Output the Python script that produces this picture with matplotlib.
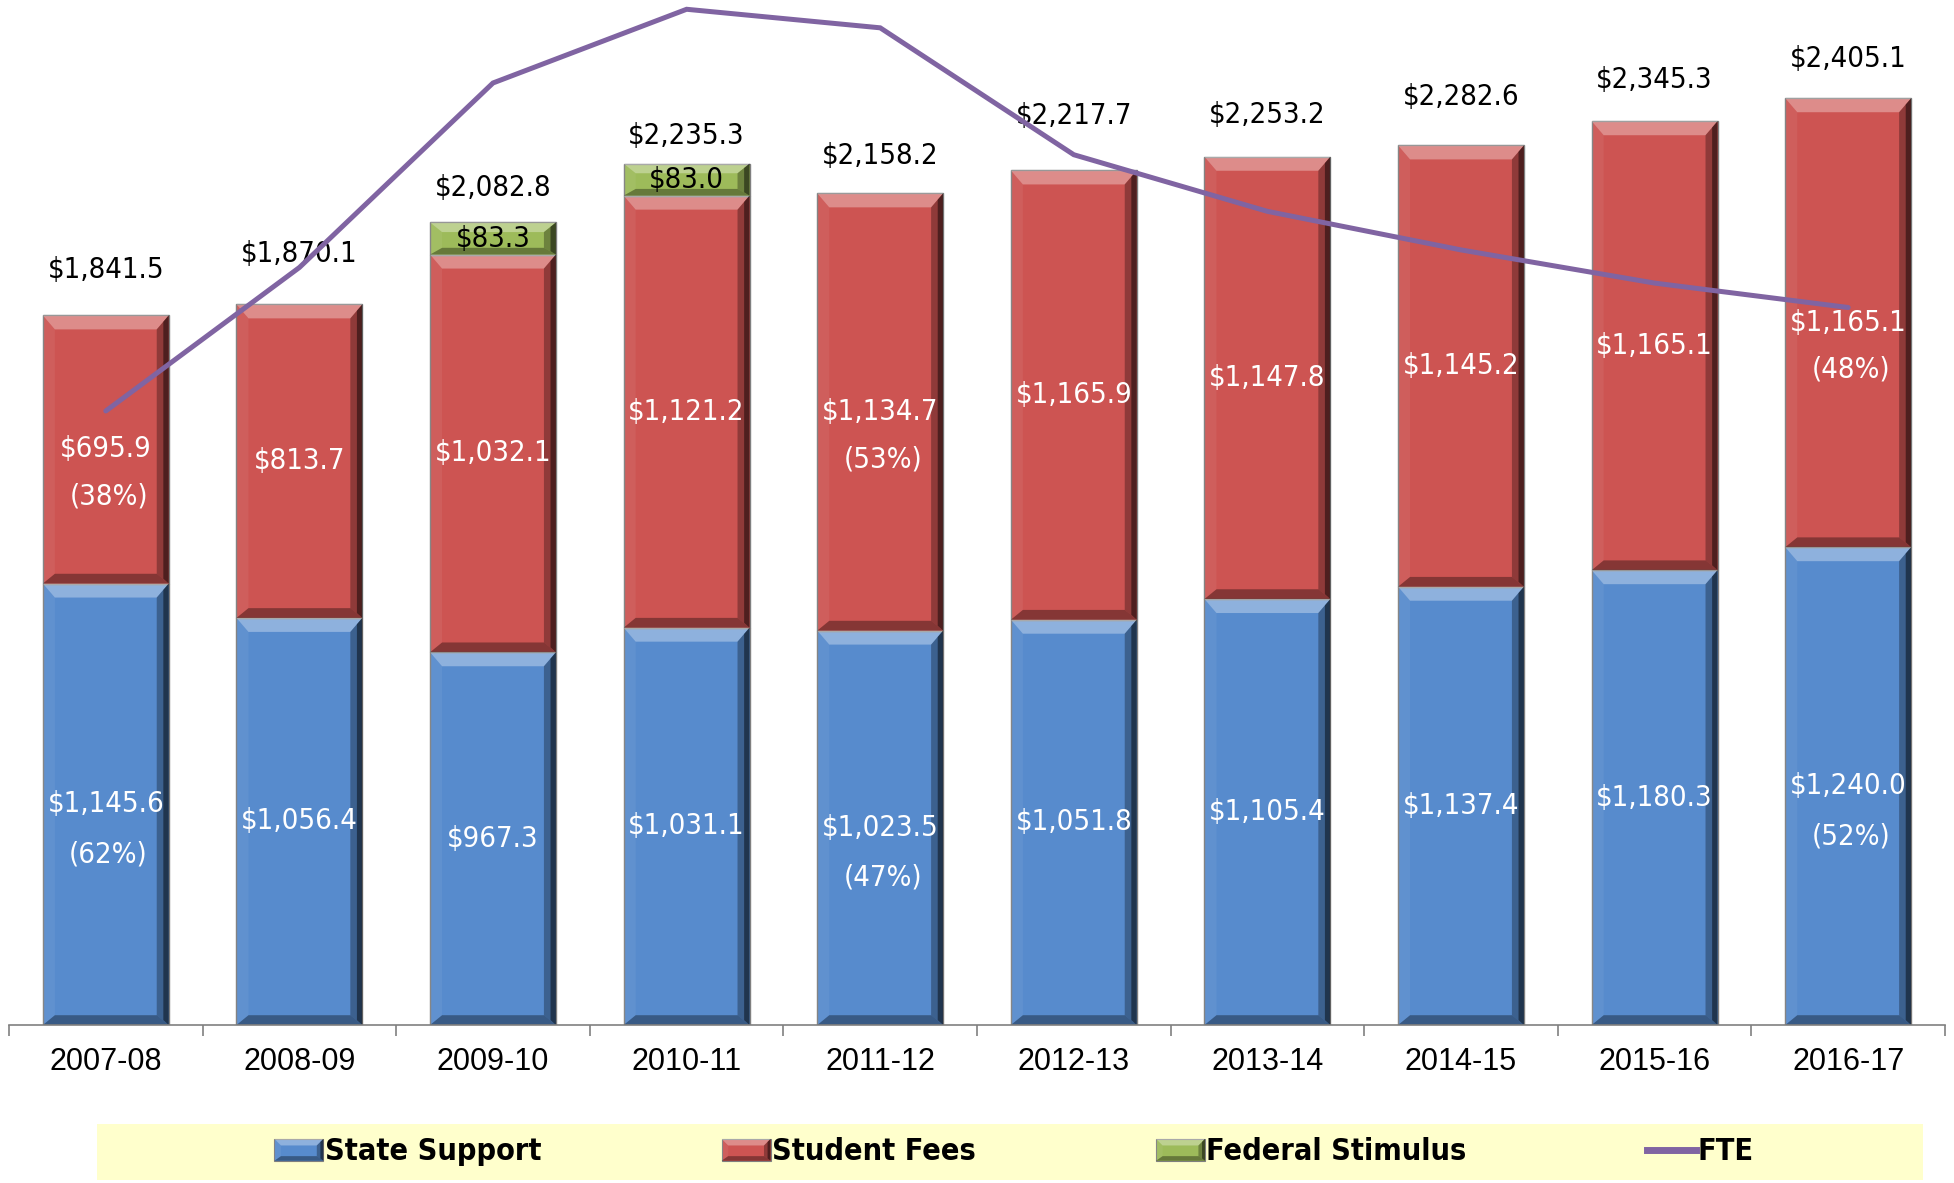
import os
import numpy as np
import matplotlib
matplotlib.use('Agg')
import matplotlib.pyplot as plt
from matplotlib import font_manager as fm
from matplotlib.patches import Polygon, Patch, Rectangle
from matplotlib.lines import Line2D
from matplotlib.legend_handler import HandlerBase

# ---- data ($ millions) ----
years = ['2007-08', '2008-09', '2009-10', '2010-11', '2011-12',
         '2012-13', '2013-14', '2014-15', '2015-16', '2016-17']
state_support = [1145.6, 1056.4, 967.3, 1031.1, 1023.5, 1051.8, 1105.4, 1137.4, 1180.3, 1240.0]
student_fees = [695.9, 813.7, 1032.1, 1121.2, 1134.7, 1165.9, 1147.8, 1145.2, 1165.1, 1165.1]
federal_stimulus = [0, 0, 83.3, 83.0, 0, 0, 0, 0, 0, 0]
totals = [1841.5, 1870.1, 2082.8, 2235.3, 2158.2, 2217.7, 2253.2, 2282.6, 2345.3, 2405.1]
state_pct = ['(62%)', None, None, None, '(47%)', None, None, None, None, '(52%)']
fees_pct = ['(38%)', None, None, None, '(53%)', None, None, None, None, '(48%)']
# FTE has no visible scale, values estimated against a hidden axis
fte = [275800, 305200, 343000, 358100, 354300, 328300, 316700, 308800, 302000, 297000]

# layout: gap (points) between bar top and total label
total_gap_pt = [33, 36, 25, 20, 27, 39, 30, 35, 30, 28]

BLUE = '#578BCD'
RED = '#CD5452'
GREEN = '#9DBB5A'
PURPLE = '#8064A2'


def find_narrow(bold=False):
    # look for an installed narrow / condensed face, Liberation first
    files = []
    for f in fm.fontManager.ttflist:
        base = os.path.basename(f.fname)
        if ('Narrow' in base or 'Condensed' in base or 'Cond' in f.name) \
                and 'Italic' not in base and 'Oblique' not in base:
            files.append((f.name, base, f.fname))
    want = [b for b in files if ('Bold' in b[1]) == bold]
    want.sort(key=lambda b: (0 if 'Liberation' in b[0] else 1 if 'DejaVu' in b[0] else 2, b[1]))
    if want:
        return fm.FontProperties(fname=want[0][2])
    return fm.FontProperties(family='DejaVu Sans', stretch='condensed',
                             weight='bold' if bold else 'normal')


NARROW = find_narrow()
NARROW_B = find_narrow(bold=True)
VAL_SIZE = 21

# translucent overlays that fake the Excel bevel
SHADES = [('top', 'white', 0.33), ('left', 'white', 0.06), ('bot', 'black', 0.35),
          ('right', 'black', 0.3), ('right2', 'black', 0.45)]


def bevel_polys(x0, y0, x1, y1, bx, dy):
    return {
        'top': [(x0, y1), (x1, y1), (x1 - bx, y1 - dy), (x0 + bx, y1 - dy)],
        'bot': [(x0, y0), (x1, y0), (x1 - bx, y0 + dy * 0.7), (x0 + bx, y0 + dy * 0.7)],
        'left': [(x0, y0), (x0, y1), (x0 + bx, y1 - dy), (x0 + bx, y0 + dy * 0.7)],
        'right': [(x1, y0), (x1, y1), (x1 - bx, y1 - dy), (x1 - bx, y0 + dy * 0.7)],
        'right2': [(x1, y0), (x1, y1), (x1 - bx * 0.45, y1 - dy * 0.45),
                   (x1 - bx * 0.45, y0 + dy * 0.35)],
    }


def bevel(ax, rects, bx, by):
    for r in rects:
        x, y = r.get_xy()
        w, h = r.get_width(), r.get_height()
        if h <= 0:
            continue
        polys = bevel_polys(x, y, x + w, y + h, bx, min(by, h * 0.3))
        for key, c, a in SHADES:
            ax.add_patch(Polygon(polys[key], closed=True, facecolor=c, alpha=a,
                                 edgecolor='none', zorder=2.1))


class BevelHandler(HandlerBase):
    def create_artists(self, legend, orig, xd, yd, width, height, fontsize, trans):
        x0, y0 = -xd, -yd
        arts = [Rectangle((x0, y0), width, height, facecolor=orig.get_facecolor(),
                          edgecolor='#7F7F7F', linewidth=0.8, transform=trans)]
        polys = bevel_polys(x0, y0, x0 + width, y0 + height, height * 0.3, height * 0.3)
        for key, c, a in SHADES:
            arts.append(Polygon(polys[key], closed=True, facecolor=c, alpha=a,
                                edgecolor='none', transform=trans))
        return arts


fig = plt.figure(figsize=(19.54, 11.83), dpi=100)
ax = fig.add_axes([9 / 1954, 1 - 1025 / 1183, 1936 / 1954, 1025 / 1183])

x = np.arange(len(years))
w = 0.65
ss = np.array(state_support)
sf = np.array(student_fees)
fs = np.array(federal_stimulus)

b1 = ax.bar(x, ss, w, color=BLUE, edgecolor='#7F7F7F', linewidth=1.0, zorder=2)
b2 = ax.bar(x, sf, w, bottom=ss, color=RED, edgecolor='#7F7F7F', linewidth=1.0, zorder=2)
m = fs > 0
b3 = ax.bar(x[m], fs[m], w, bottom=(ss + sf)[m], color=GREEN, edgecolor='#7F7F7F',
            linewidth=1.0, zorder=2)

bx = 12 / 193.7
by = 14 / 0.3856
for cont in (b1, b2, b3):
    bevel(ax, cont, bx, by)

# labels inside segments
for i in range(len(years)):
    yc = ss[i] / 2
    ax.text(x[i], yc, f'${ss[i]:,.1f}', ha='center', va='center', color='white',
            fontproperties=NARROW, fontsize=VAL_SIZE, zorder=4)
    if state_pct[i]:
        ax.annotate(state_pct[i], (x[i], yc), xytext=(2, -36), textcoords='offset points',
                    ha='center', va='center', color='white', fontproperties=NARROW,
                    fontsize=VAL_SIZE, zorder=4)
    yc = ss[i] + sf[i] / 2
    ax.text(x[i], yc, f'${sf[i]:,.1f}', ha='center', va='center', color='white',
            fontproperties=NARROW, fontsize=VAL_SIZE, zorder=4)
    if fees_pct[i]:
        ax.annotate(fees_pct[i], (x[i], yc), xytext=(2, -34), textcoords='offset points',
                    ha='center', va='center', color='white', fontproperties=NARROW,
                    fontsize=VAL_SIZE, zorder=4)
    if fs[i] > 0:
        ax.text(x[i], ss[i] + sf[i] + fs[i] / 2, f'${fs[i]:,.1f}', ha='center', va='center',
                color='black', fontproperties=NARROW, fontsize=VAL_SIZE, zorder=4)
    top = ss[i] + sf[i] + fs[i]
    ax.annotate(f'${totals[i]:,.1f}', (x[i], top), xytext=(0, total_gap_pt[i]),
                textcoords='offset points', ha='center', va='center', color='black',
                fontproperties=NARROW, fontsize=VAL_SIZE, zorder=4)

ax.set_xlim(-0.5, len(years) - 0.5)
ax.set_ylim(0, 2660)
ax.set_yticks([])
for s in ['top', 'right', 'left']:
    ax.spines[s].set_visible(False)
ax.spines['bottom'].set_color('#808080')
ax.spines['bottom'].set_linewidth(1.2)
ax.set_xticks(x)
ax.set_xticklabels(years, fontsize=22, family='Liberation Sans')
ax.tick_params(axis='x', which='major', length=0, pad=16)
ax.set_xticks(np.arange(len(years) + 1) - 0.5, minor=True)
ax.tick_params(axis='x', which='minor', length=8, width=1.2, color='#808080')
ax.patch.set_alpha(0)

# FTE on a hidden second axis
ax2 = ax.twinx()
ax2.plot(x, fte, color=PURPLE, linewidth=3.6, solid_capstyle='round',
         solid_joinstyle='miter', clip_on=False)
ax2.set_ylim(150000, 360000)
ax2.axis('off')

# legend in a pale yellow strip
fig.patches.append(Rectangle((97 / 1954, 3 / 1183), 1826 / 1954, 56 / 1183,
                             transform=fig.transFigure, facecolor='#FFFFCC',
                             edgecolor='none', zorder=0))
handles = [Patch(facecolor=BLUE), Patch(facecolor=RED), Patch(facecolor=GREEN),
           Line2D([], [], color=PURPLE, linewidth=5)]
leg_font = NARROW_B.copy()
leg_font.set_size(22)
fig.legend(handles, ['State Support', 'Student Fees', 'Federal Stimulus', 'FTE'],
           loc='center', bbox_to_anchor=(1014 / 1954, 1 - 1152 / 1183), ncol=4,
           frameon=False, handlelength=1.6, handleheight=0.72, handletextpad=0.05,
           columnspacing=5.9, prop=leg_font, handler_map={Patch: BevelHandler()})

fig.savefig('out.png', dpi=100)
